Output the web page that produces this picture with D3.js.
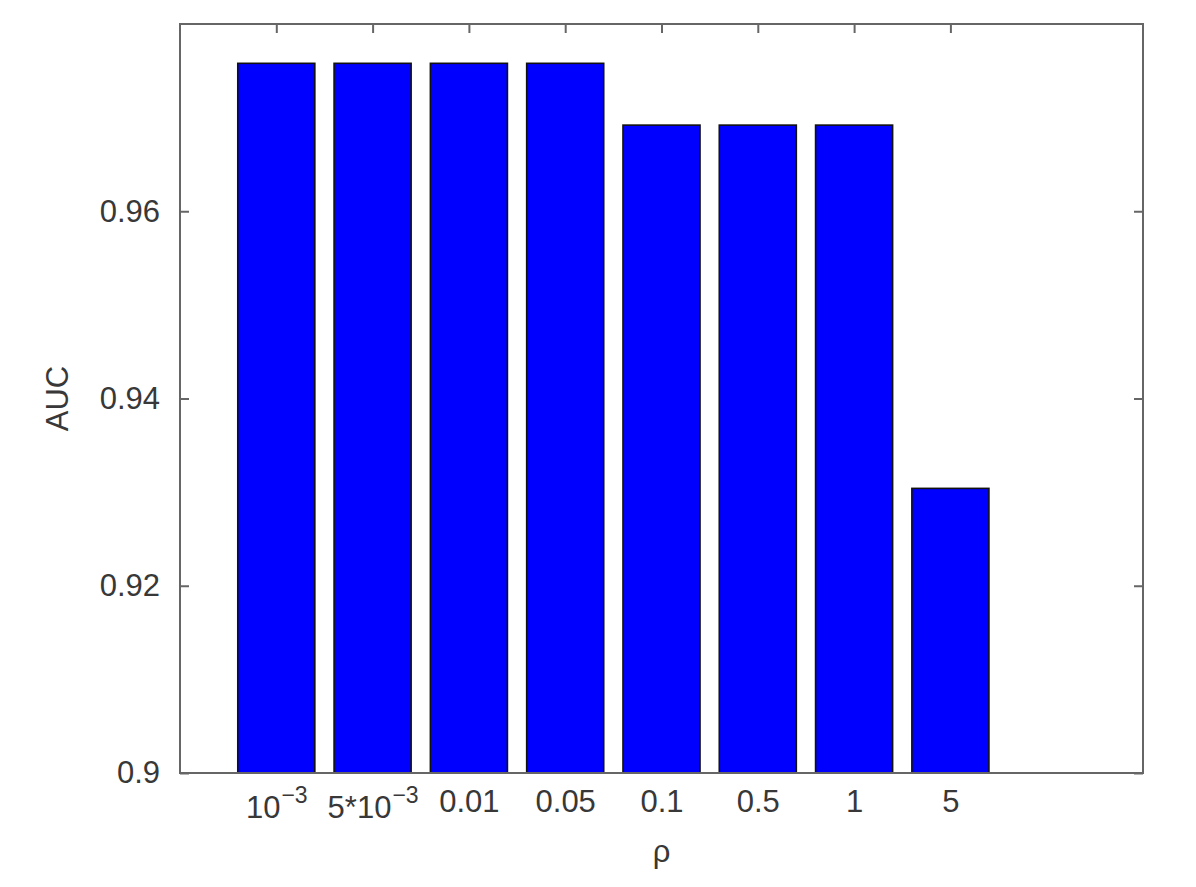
<!DOCTYPE html>
<html>
<head>
<meta charset="utf-8">
<script src="https://cdn.jsdelivr.net/npm/d3@7"></script>
<style>
  html, body { margin: 0; padding: 0; background: #fff; }
  svg text { font-family: "Liberation Sans", Arial, Helvetica, sans-serif; }
</style>
</head>
<body>
<svg id="chart" width="1196" height="887"></svg>
<script>
// ---- data ----
const categories = ["10^−3", "5*10^−3", "0.01", "0.05", "0.1", "0.5", "1", "5"];
const aucValues = [0.9758, 0.9758, 0.9758, 0.9758, 0.9692, 0.9692, 0.9692, 0.9304];
const yTicks = [0.9, 0.92, 0.94, 0.96];
const xLabel = "ρ";
const yLabel = "AUC";

// ---- layout ----
const W = 1196, H = 887;
const margin = {left: 180, top: 24, right: 53, bottom: 114};
const iw = W - margin.left - margin.right;
const ih = H - margin.top - margin.bottom;
const axisColor = "#666";
const textColor = "#383838";
const fontSize = 31;

const svg = d3.select("#chart");
const g = svg.append("g").attr("transform", `translate(${margin.left},${margin.top})`);

const x = d3.scaleLinear().domain([0, categories.length + 2]).range([0, iw]);
const y = d3.scaleLinear().domain([0.9, 0.98]).range([ih, 0]);
const idx = categories.map((c, i) => i + 1);

// ticks (inside) drawn first, bars over them
const xAxisB = d3.axisBottom(x).tickValues(idx).tickSize(-9).tickPadding(15)
  .tickFormat((d) => categories[d - 1]);
const xAxisT = d3.axisTop(x).tickValues(idx).tickSize(-9).tickFormat("");
const yAxisL = d3.axisLeft(y).tickValues(yTicks).tickSize(-9).tickPadding(20)
  .tickFormat(d => String(+d.toFixed(2)));
const yAxisR = d3.axisRight(y).tickValues(yTicks).tickSize(-9).tickFormat("");

function styleAxis(sel) {
  sel.select(".domain").remove();
  sel.selectAll(".tick line").attr("stroke", axisColor).attr("stroke-width", 2);
  sel.selectAll(".tick text").attr("fill", textColor).attr("font-size", fontSize);
}

const gxb = g.append("g").attr("transform", `translate(0,${ih})`).call(xAxisB).call(styleAxis);
g.append("g").call(xAxisT).call(styleAxis);
g.append("g").call(yAxisL).call(styleAxis);
g.append("g").attr("transform", `translate(${iw},0)`).call(yAxisR).call(styleAxis);

// superscript labels
gxb.selectAll(".tick text").each(function(d) {
  const lab = categories[d - 1];
  const parts = lab.split("^");
  if (parts.length === 2) {
    const t = d3.select(this);
    t.text(null).attr("dy", null).attr("y", 15 + 30);
    t.append("tspan").text(parts[0]);
    t.append("tspan").attr("font-size", 23).attr("dx", 1).attr("dy", -15).text(parts[1]);
  } else {
    d3.select(this).attr("dy", null).attr("y", 15 + 24);
  }
});

// bars
const bw = x(0.8) - x(0);
g.selectAll("rect.bar").data(aucValues).join("rect")
  .attr("class", "bar")
  .attr("x", (d, i) => x(i + 1) - bw / 2)
  .attr("width", bw)
  .attr("y", d => y(d))
  .attr("height", d => y(0.9) - y(d))
  .attr("fill", "#0000ff")
  .attr("stroke", "#111")
  .attr("stroke-width", 1.6);

// axis box
g.append("rect").attr("x", 0).attr("y", 0).attr("width", iw).attr("height", ih)
  .attr("fill", "none").attr("stroke", axisColor).attr("stroke-width", 2);

// axis labels
svg.append("text").attr("x", margin.left + iw / 2).attr("y", 862)
  .attr("text-anchor", "middle").attr("fill", textColor).attr("font-size", fontSize)
  .text(xLabel);
svg.append("text").attr("transform", `translate(68,${margin.top + ih / 2}) rotate(-90)`)
  .attr("text-anchor", "middle").attr("fill", textColor).attr("font-size", fontSize)
  .text(yLabel);
</script>
</body>
</html>
